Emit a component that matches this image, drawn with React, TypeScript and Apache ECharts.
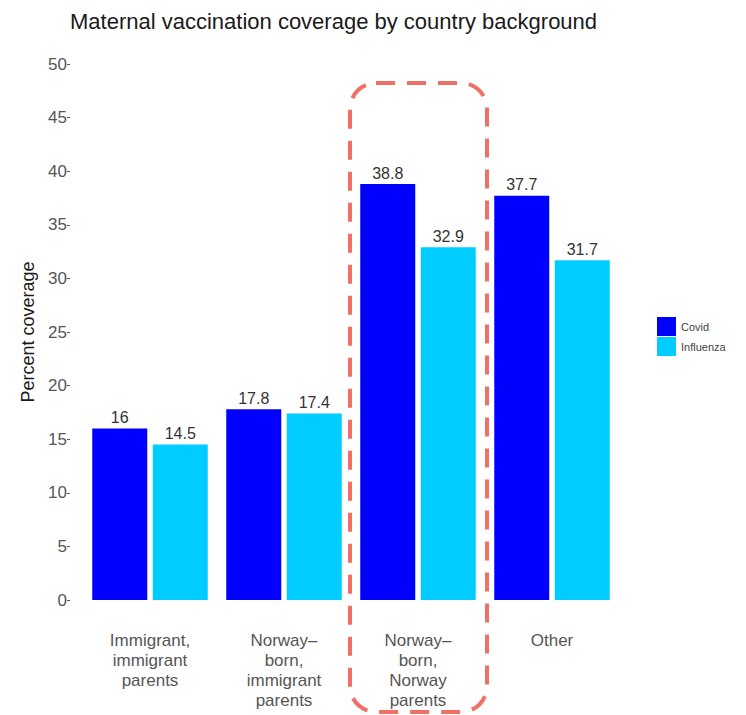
import React, { useEffect, useRef } from "react";
import * as echarts from "echarts";

const categories = [
  "Immigrant,\nimmigrant\nparents",
  "Norway–\nborn,\nimmigrant\nparents",
  "Norway–\nborn,\nNorway\nparents",
  "Other",
];
const covid = [16, 17.8, 38.8, 37.7];
const influenza = [14.5, 17.4, 32.9, 31.7];
const yTicks = { min: 0, max: 50, interval: 5 };

const FONT = "'Liberation Sans', Arial, sans-serif";

export default function App() {
  const ref = useRef<HTMLDivElement>(null);
  useEffect(() => {
    if (!ref.current) return;
    const chart = echarts.init(ref.current, undefined, { renderer: "svg" });
    const labelStyle = {
      show: true,
      position: "top" as const,
      distance: 3,
      fontSize: 16,
      color: "#333333",
      fontFamily: FONT,
    };
    chart.setOption({
      animation: false,
      backgroundColor: "#ffffff",
      textStyle: { fontFamily: FONT },
      title: {
        text: "Maternal vaccination coverage by country background",
        left: 65,
        top: 5,
        textStyle: { fontSize: 22, fontWeight: "normal", color: "#1a1a1a", fontFamily: FONT },
      },
      legend: {
        orient: "vertical",
        left: 652,
        top: 312,
        itemWidth: 19,
        itemHeight: 19,
        itemGap: 1,
        icon: "rect",
        textStyle: { fontSize: 11, color: "#444444", fontFamily: FONT },
        data: ["Covid", "Influenza"],
      },
      grid: { left: 83, right: 746 - 619, top: 64, bottom: 115, containLabel: false },
      xAxis: {
        type: "category",
        data: categories,
        axisLine: { show: false },
        axisTick: { show: false },
        axisLabel: {
          fontSize: 17,
          lineHeight: 20,
          color: "#555555",
          margin: 30,
          fontFamily: FONT,
          interval: 0,
        },
      },
      yAxis: {
        type: "value",
        min: yTicks.min,
        max: yTicks.max,
        interval: yTicks.interval,
        offset: 13,
        name: "Percent coverage",
        nameLocation: "middle",
        nameGap: 32,
        nameRotate: 90,
        nameTextStyle: { fontSize: 18, color: "#1a1a1a", fontFamily: FONT },
        axisLine: { show: false },
        axisTick: { show: true, length: 3, lineStyle: { color: "#555555" } },
        axisLabel: { fontSize: 17, color: "#555555", margin: 3, fontFamily: FONT },
        splitLine: { show: false },
      },
      series: [
        {
          name: "Covid",
          type: "bar",
          data: covid,
          barWidth: 55,
          barGap: "10%",
          itemStyle: { color: "#0000ff" },
          label: labelStyle,
        },
        {
          name: "Influenza",
          type: "bar",
          data: influenza,
          barWidth: 55,
          barGap: "10%",
          itemStyle: { color: "#00ccff" },
          label: labelStyle,
        },
      ],
      graphic: [
        {
          type: "rect",
          shape: { x: 350, y: 83, width: 137, height: 629, r: 26 },
          style: { fill: "none", stroke: "#f07068", lineWidth: 4, lineDash: [19, 12] },
          silent: true,
        },
      ],
    });
    return () => chart.dispose();
  }, []);
  return (
    <div
      ref={ref}
      style={{ position: "fixed", left: 0, top: 0, width: 746, height: 715 }}
    />
  );
}
